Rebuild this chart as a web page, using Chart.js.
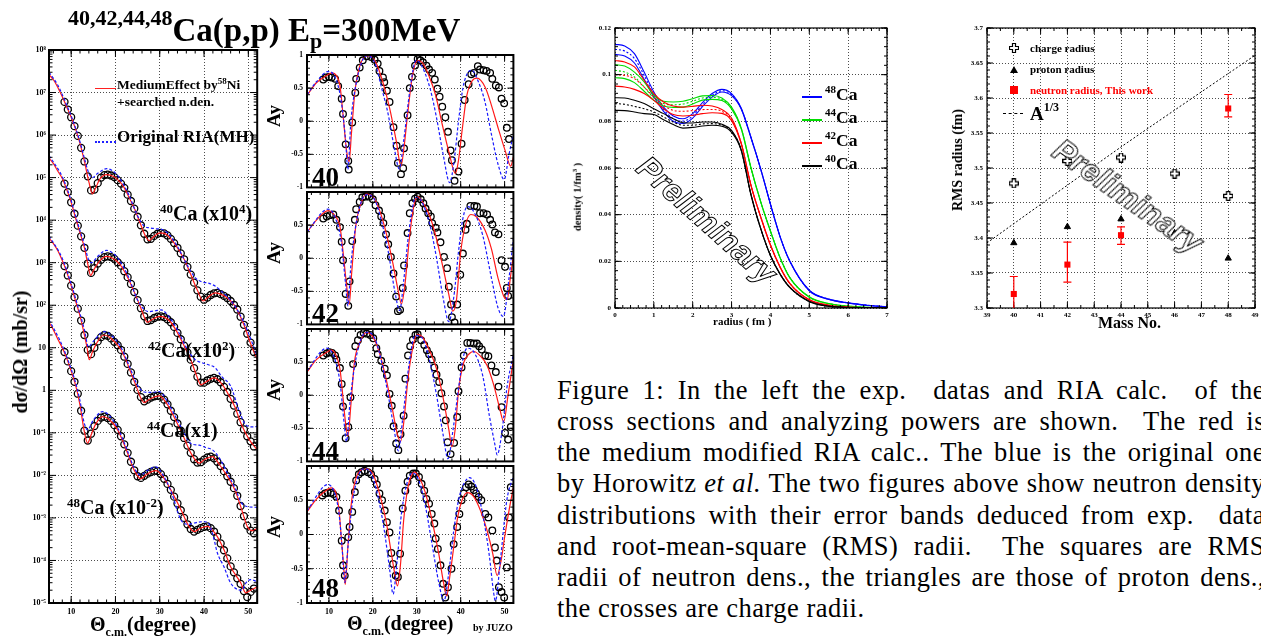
<!DOCTYPE html>
<html>
<head>
<meta charset="utf-8">
<title>40,42,44,48Ca(p,p) Ep=300MeV</title>
<script src="https://cdn.jsdelivr.net/npm/chart.js@4.4.1/dist/chart.umd.min.js"></script>
<style>
  html, body { margin: 0; padding: 0; background: #fff; }
  body { width: 1261px; height: 637px; overflow: hidden; position: relative; font-family: 'Liberation Serif', 'Times New Roman', serif; }
  canvas { position: absolute; }
  .t { position: absolute; font-weight: bold; white-space: nowrap; line-height: 1; color: #000; }
  .up { position: relative; }
  .rot { position: absolute; font-weight: bold; white-space: nowrap; line-height: 1; transform: translate(-50%, -50%) rotate(-90deg); }
  .ln { position: absolute; height: 0; }
  .prelim { position: absolute; font-family: 'Liberation Sans', Arial, sans-serif; font-style: italic; font-weight: bold; font-size: 32px; color: #fff; -webkit-text-stroke: 1px #000; white-space: nowrap; line-height: 1; }
  #cap { position: absolute; left: 557px; top: 375px; font-family: 'Liberation Serif', 'Times New Roman', serif; font-size: 26.5px; line-height: 31.15px; letter-spacing: 0.5px; color: #000; }
  #cap .cl { white-space: nowrap; }
</style>
</head>
<body>

<canvas id="cXs" width="262" height="585" style="left:0;top:45px"></canvas>
<canvas id="cAy0" width="260" height="143" style="left:258px;top:49px"></canvas>
<canvas id="cAy1" width="260" height="143" style="left:258px;top:186px"></canvas>
<canvas id="cAy2" width="260" height="143" style="left:258px;top:323px"></canvas>
<canvas id="cAy3" width="260" height="167" style="left:258px;top:460px"></canvas>
<canvas id="cDen" width="312" height="300" style="left:580px;top:20px"></canvas>
<canvas id="cRms" width="306" height="300" style="left:955px;top:20px"></canvas>

<!-- title -->
<div class="t" style="left:68px;top:14px;font-size:33px"><span class="up" style="font-size:22px;top:-16px">40,42,44,48</span>Ca(p,p) E<span class="up" style="font-size:22px;top:7px">p</span>=300MeV</div>

<!-- cross section panel texts -->
<div class="ln" style="left:95px;top:88px;width:21px;border-top:1.5px solid #ff2020"></div>
<div class="t" style="left:117px;top:78px;font-size:13.5px">MediumEffect by<span class="up" style="font-size:9px;top:-5px">58</span>Ni</div>
<div class="t" style="left:117px;top:95px;font-size:13.5px">+searched n.den.</div>
<div class="ln" style="left:95px;top:141px;width:21px;border-top:2px dotted #2020ff"></div>
<div class="t" style="left:117px;top:128px;font-size:17px">Original RIA(MH)</div>
<div class="t" style="left:160px;top:203px;font-size:20px"><span class="up" style="font-size:13px;top:-7px">40</span>Ca (x10<span class="up" style="font-size:13px;top:-7px">4</span>)</div>
<div class="t" style="left:148px;top:340px;font-size:20px"><span class="up" style="font-size:13px;top:-7px">42</span>Ca(x10<span class="up" style="font-size:13px;top:-7px">2</span>)</div>
<div class="t" style="left:147px;top:420px;font-size:20px"><span class="up" style="font-size:13px;top:-7px">44</span>Ca(x1)</div>
<div class="t" style="left:67px;top:497px;font-size:20px"><span class="up" style="font-size:13px;top:-7px">48</span>Ca (x10<span class="up" style="font-size:13px;top:-7px">-2</span>)</div>
<div class="rot" style="left:20px;top:352px;font-size:20px">dσ/dΩ (mb/sr)</div>
<div class="t" style="left:90px;top:614px;font-size:20px">Θ<span class="up" style="font-size:12px;top:5px">c.m.</span>(degree)</div>

<!-- analyzing power panel texts -->
<div class="rot" style="left:273px;top:116px;font-size:19px">Ay</div>
<div class="rot" style="left:273px;top:253px;font-size:19px">Ay</div>
<div class="rot" style="left:273px;top:390px;font-size:19px">Ay</div>
<div class="rot" style="left:273px;top:527px;font-size:19px">Ay</div>
<div class="t" style="left:312px;top:164px;font-size:27px">40</div>
<div class="t" style="left:312px;top:300px;font-size:27px">42</div>
<div class="t" style="left:312px;top:438px;font-size:27px">44</div>
<div class="t" style="left:312px;top:575px;font-size:27px">48</div>
<div class="t" style="left:347px;top:613px;font-size:20px">Θ<span class="up" style="font-size:12px;top:5px">c.m.</span>(degree)</div>
<div class="t" style="left:473px;top:623px;font-size:10px">by JUZO</div>

<!-- density panel texts -->
<div class="ln" style="left:802px;top:96px;width:20px;border-top:2px solid #0000ff"></div>
<div class="ln" style="left:802px;top:119px;width:20px;border-top:2px solid #00dd00"></div>
<div class="ln" style="left:802px;top:142px;width:20px;border-top:2px solid #ff0000"></div>
<div class="ln" style="left:802px;top:165px;width:20px;border-top:2px solid #000"></div>
<div class="t" style="left:825px;top:86px;font-size:17.5px"><span class="up" style="font-size:11px;top:-7px">48</span>Ca</div>
<div class="t" style="left:825px;top:109px;font-size:17.5px"><span class="up" style="font-size:11px;top:-7px">44</span>Ca</div>
<div class="t" style="left:825px;top:132px;font-size:17.5px"><span class="up" style="font-size:11px;top:-7px">42</span>Ca</div>
<div class="t" style="left:825px;top:155px;font-size:17.5px"><span class="up" style="font-size:11px;top:-7px">40</span>Ca</div>
<div class="rot" style="left:578px;top:197px;font-size:10.5px">density( 1/fm<span class="up" style="font-size:7px;top:-4px">3</span> )</div>
<div class="t" style="left:713px;top:316px;font-size:11px">radius ( fm )</div>
<div class="prelim" style="left:707px;top:220px;transform:translate(-50%,-50%) rotate(41.7deg)">Preliminary</div>

<!-- RMS panel texts -->
<svg style="position:absolute;left:1009px;top:43px" width="10" height="10"><path d="M3.5 0.5 H6.5 V3.5 H9.5 V6.5 H6.5 V9.5 H3.5 V6.5 H0.5 V3.5 H3.5 Z" fill="#fff" stroke="#000" stroke-width="1.2"/></svg>
<div style="position:absolute;left:1010px;top:66px;width:0;height:0;border-left:4px solid transparent;border-right:4px solid transparent;border-bottom:7px solid #000"></div>
<div style="position:absolute;left:1010px;top:86px;width:8px;height:8px;background:#ff0000"></div>
<div class="ln" style="left:1003px;top:113px;width:20px;border-top:1px dashed #000"></div>
<div class="t" style="left:1030px;top:43px;font-size:11px">charge radius</div>
<div class="t" style="left:1030px;top:64px;font-size:11px">proton radius</div>
<div class="t" style="left:1030px;top:85px;font-size:11px;color:#ff0000">neutron radius, This work</div>
<div class="t" style="left:1030px;top:104px;font-size:19px">A<span class="up" style="font-size:12px;top:-9px">1/3</span></div>
<div class="rot" style="left:958px;top:160px;font-size:14px">RMS radius (fm)</div>
<div class="t" style="left:1098px;top:315px;font-size:16px">Mass No.</div>
<div class="prelim" style="left:1128px;top:196px;transform:translate(-50%,-50%) rotate(35deg)">Preliminary</div>

<!-- caption -->
<div id="cap">
  <div><span class="cl">Figure 1: In the left the exp.&nbsp; datas and RIA calc.&nbsp; of the</span></div>
  <div><span class="cl">cross sections and analyzing powers are shown.&nbsp; The red is</span></div>
  <div><span class="cl">the medium modified RIA calc.. The blue is the original one</span></div>
  <div><span class="cl">by Horowitz <i>et al.</i> The two figures above show neutron density</span></div>
  <div><span class="cl">distributions with their error bands deduced from exp.&nbsp; data</span></div>
  <div><span class="cl">and root-mean-square (RMS) radii.&nbsp; The squares are RMS</span></div>
  <div><span class="cl">radii of neutron dens., the triangles are those of proton dens.,</span></div>
  <div><span class="cl" data-last="1">the crosses are charge radii.</span></div>
</div>

<script>
// ---------- cross sections: [angle (deg), log10 dσ/dΩ as plotted] ----------
const xsRed40 = [[5,7.42],[6,7.3],[7,7.12],[8,6.9],[9,6.66],[10,6.42],[11,6.14],[12,5.8],[13,5.38],[14,4.9],[14.8,4.62],[15.5,4.75],[16.5,4.97],[18,5.07],[19.5,5.03],[21,4.9],[22,4.76],[23,4.55],[24.2,4.29],[25.7,3.9],[26.8,3.62],[27.6,3.52],[28.5,3.6],[30,3.7],[31,3.69],[32,3.62],[34,3.35],[35.5,3.08],[37,2.72],[38.5,2.35],[39.8,2.1],[41,2.2],[42.5,2.29],[44,2.25],[45.5,2.15],[47,1.98],[49,1.54],[50.5,1.1],[52,0.72]];
const xsBlue40 = [[5,7.48],[7,7.17],[8,6.95],[9,6.7],[10,6.45],[12,5.84],[13,5.45],[14,5.1],[14.8,5.0],[16,5.1],[18,5.21],[19.5,5.15],[21,4.98],[23,4.6],[25,4.1],[26.5,3.86],[27.6,3.82],[29,3.8],[30.5,3.78],[32,3.68],[34,3.38],[36,2.98],[38,2.65],[39.5,2.55],[41,2.52],[42.5,2.45],[44,2.32],[46,2.12],[48,1.8],[50,1.35],[52,0.8]];
const xsRed42 = [[5,5.46],[6,5.33],[7,5.15],[8,4.98],[9,4.72],[10,4.42],[11,4.05],[12,3.7],[13,3.35],[13.8,2.95],[14.4,2.7],[15.2,2.85],[16.5,3.05],[18,3.15],[19.5,3.1],[21,2.96],[22,2.8],[23.2,2.56],[24.2,2.32],[25.7,1.94],[26.5,1.72],[27.2,1.6],[28.2,1.66],[30,1.74],[31,1.72],[32.5,1.6],[34,1.35],[35.5,1.05],[37,0.72],[38.3,0.35],[39.3,0.13],[40.5,0.2],[42.3,0.29],[44,0.15],[45.3,-0.06],[47,-0.4],[48.3,-0.77],[50.2,-1.16],[52,-1.4]];
const xsBlue42 = [[5,5.52],[8,5.02],[9,4.76],[10,4.46],[11,4.1],[12,3.75],[13,3.42],[14,3.05],[14.6,3.0],[16,3.15],[18,3.29],[19.5,3.22],[21,3.04],[23,2.65],[25,2.12],[26.5,1.9],[27.5,1.85],[29,1.87],[30.3,1.89],[32,1.74],[34,1.42],[36,1.0],[38,0.72],[39.5,0.65],[41,0.6],[42.5,0.53],[44,0.32],[46,0.1],[48,-0.5],[49.5,-0.82],[51,-0.86],[52,-0.85]];
const xsRed44 = [[5,3.58],[6,3.45],[7,3.28],[8,3.05],[9,2.78],[10,2.46],[11,2.1],[12,1.75],[13,1.3],[13.6,1.0],[14.1,0.72],[14.8,0.9],[16,1.15],[17.4,1.3],[19,1.22],[21.2,0.96],[22.5,0.68],[23.5,0.41],[25,0.01],[25.8,-0.2],[26.5,-0.29],[27.5,-0.22],[29.9,-0.13],[31.5,-0.3],[33.2,-0.62],[35.5,-1.12],[37,-1.47],[38.9,-1.71],[40.2,-1.62],[41.9,-1.56],[43.5,-1.75],[45.3,-2.03],[47,-2.35],[48.3,-2.74],[49.8,-3.21],[51,-3.3],[52,-3.24]];
const xsBlue44 = [[5,3.63],[8,3.1],[10,2.5],[12,1.8],[13,1.42],[13.9,1.02],[15,1.15],[17.4,1.38],[19,1.3],[21.2,1.02],[23,0.6],[25,0.12],[26.5,-0.04],[28,-0.05],[29.9,-0.03],[31.5,-0.22],[33.2,-0.55],[35.5,-1.0],[37,-1.25],[38.9,-1.29],[40.5,-1.35],[41.9,-1.4],[43.5,-1.6],[45.3,-1.95],[47,-2.3],[48.5,-2.65],[50,-2.74],[52,-2.75]];
const xsRed48 = [[5,1.6],[6,1.42],[7,1.2],[8,1.0],[9,0.75],[10,0.45],[11,0.12],[12,-0.35],[12.9,-0.93],[13.7,-1.24],[14.5,-1.05],[15.5,-0.8],[17.1,-0.62],[18.5,-0.68],[20.5,-0.93],[22,-1.28],[22.7,-1.47],[24.2,-1.87],[25.7,-2.08],[27,-1.98],[29.1,-1.89],[30.5,-2.0],[32.5,-2.34],[34.8,-2.81],[36.6,-3.2],[37.8,-3.32],[39,-3.25],[40.8,-3.2],[42,-3.3],[43,-3.44],[44.5,-3.75],[46,-4.15],[48.3,-4.53],[49.4,-4.76],[50.5,-4.7],[52,-4.62]];
const xsBlue48 = [[5,1.66],[8,1.05],[10,0.5],[11,0.18],[12,-0.25],[12.9,-0.75],[13.7,-0.93],[15,-0.7],[17.1,-0.5],[18.5,-0.58],[20.5,-0.88],[22.7,-1.42],[24.2,-1.82],[25.7,-1.99],[27,-1.9],[29.1,-1.8],[30.5,-1.95],[32.5,-2.36],[34.8,-3.05],[36.5,-3.15],[37.8,-3.12],[39.5,-3.09],[40.8,-3.1],[42,-3.4],[43,-3.82],[44.5,-4.15],[46,-4.53],[48.5,-4.7],[49.5,-4.52],[50.5,-4.45],[52,-4.5]];

// measured cross sections (log10, as plotted)
const xsAngles = [8.5,9.25,10,10.75,11.5,12.25,13,13.75,14.5,15.25,16,16.75,17.5,18.25,19,19.75,20.5,21.25,22,22.75,23.5,24.25,25,25.75,26.5,27.25,28,28.75,29.5,30.25,31,31.75,32.5,33.25,34,34.75,35.5,36.25,37,37.75,38.5,39.25,40,40.75,41.5,42.25,43,43.75,44.5,45.25,46,46.75,47.5,48.25,49,49.75,50.5,51.25];
const xsData40 = [6.78,6.6,6.42,6.21,5.98,5.7,5.38,5.03,4.7,4.72,4.87,5.0,5.06,5.07,5.05,5.01,4.94,4.86,4.76,4.6,4.45,4.27,4.08,3.88,3.68,3.55,3.56,3.63,3.68,3.7,3.69,3.64,3.56,3.46,3.35,3.22,3.08,2.9,2.72,2.53,2.35,2.2,2.13,2.18,2.24,2.28,2.29,2.26,2.22,2.17,2.1,2.01,1.9,1.73,1.54,1.33,1.12,0.9];
const xsData42 = [4.86,4.66,4.42,4.15,3.87,3.62,3.35,2.98,2.76,2.87,2.98,3.07,3.13,3.15,3.13,3.09,3.01,2.93,2.8,2.66,2.5,2.31,2.12,1.93,1.74,1.63,1.65,1.7,1.73,1.74,1.72,1.67,1.6,1.49,1.35,1.2,1.05,0.89,0.72,0.52,0.32,0.18,0.18,0.23,0.27,0.29,0.26,0.19,0.08,-0.04,-0.2,-0.36,-0.55,-0.75,-0.92,-1.08,-1.2,-1.32];
const xsData44 = [2.92,2.7,2.46,2.19,1.92,1.64,1.3,0.95,0.85,1.0,1.15,1.25,1.3,1.28,1.22,1.14,1.06,0.95,0.79,0.62,0.42,0.2,0.01,-0.16,-0.26,-0.22,-0.17,-0.14,-0.13,-0.15,-0.22,-0.33,-0.48,-0.63,-0.78,-0.95,-1.12,-1.3,-1.47,-1.62,-1.7,-1.69,-1.63,-1.58,-1.56,-1.6,-1.68,-1.78,-1.9,-2.02,-2.15,-2.3,-2.48,-2.72,-2.96,-3.18,-3.3,-3.36];
const xsData48 = [0.9,0.68,0.45,0.2,-0.08,-0.48,-0.95,-1.18,-1.02,-0.84,-0.72,-0.64,-0.62,-0.65,-0.72,-0.82,-0.93,-1.08,-1.27,-1.47,-1.68,-1.88,-2.02,-2.06,-2.01,-1.96,-1.92,-1.89,-1.9,-1.97,-2.08,-2.2,-2.34,-2.5,-2.66,-2.82,-3.0,-3.15,-3.26,-3.32,-3.28,-3.24,-3.21,-3.2,-3.24,-3.32,-3.44,-3.6,-3.76,-3.95,-4.14,-4.28,-4.42,-4.55,-4.72,-4.86,-4.74,-4.66];

// ---------- analyzing powers: [angle, Ay] ----------
const ay40Red = [[5,0.39],[7.2,0.585],[9.5,0.69],[10.6,0.73],[11.7,0.69],[12.5,0.54],[13.2,0.1],[14,-0.44],[14.6,-0.61],[15.1,-0.2],[15.9,0.44],[17,0.83],[18.5,0.985],[19.2,0.99],[20.75,0.88],[22.3,0.585],[23.8,0.2],[25.3,-0.29],[26.4,-0.68],[27.1,-0.39],[27.9,0.1],[29,0.68],[30.2,0.92],[31.3,0.88],[32.8,0.68],[34.3,0.39],[35.8,-0.05],[37.3,-0.46],[38.8,-0.79],[39.5,-0.59],[40.3,-0.15],[41.4,0.39],[42.6,0.61],[43.7,0.65],[45.6,0.51],[47,0.24],[48.6,-0.12],[50.1,-0.44],[51.4,-0.68],[52,-0.54]];
const ay40Blue = [[5,0.4],[7.2,0.6],[9.8,0.75],[11.5,0.65],[12.8,0.3],[13.8,-0.3],[14.3,-0.73],[15,0.0],[16,0.5],[17.5,0.9],[18.8,0.99],[20.5,0.87],[22,0.5],[23.5,0.1],[25,-0.45],[26,-0.72],[27,-0.3],[28.5,0.5],[29.8,0.92],[31,0.85],[33,0.5],[34.5,0.05],[36,-0.5],[37.5,-0.93],[38.5,-0.6],[39.5,0.0],[40.5,0.5],[41.5,0.72],[42.5,0.77],[44,0.6],[45.5,0.3],[47,-0.2],[48.5,-0.65],[49.9,-0.88],[51,-0.5],[52,-0.2]];
const ay40Data = [[8.7,0.63],[9.3,0.66],[10,0.67],[10.6,0.66],[11.4,0.64],[12.1,0.53],[12.9,0.34],[13.2,0.11],[13.8,-0.35],[14.4,-0.6],[14.5,-0.73],[15.3,-0.02],[16,0.43],[16.2,0.64],[17,0.81],[17.7,0.92],[18.6,0.98],[19.6,0.97],[20.4,0.93],[21.1,0.87],[21.5,0.76],[22.3,0.66],[22.6,0.59],[23.2,0.46],[23.8,0.29],[24.7,-0.09],[25.4,-0.37],[25.7,-0.63],[26.4,-0.8],[26.9,-0.71],[27.1,-0.41],[27.9,0.09],[28.4,0.5],[28.9,0.67],[29.6,0.84],[30.2,0.94],[30.8,0.92],[31.4,0.89],[32.2,0.84],[32.8,0.78],[33.5,0.73],[34.1,0.63],[34.7,0.49],[35.2,0.37],[35.8,0.22],[36.5,0.06],[37.1,-0.16],[37.7,-0.44],[38,-0.59],[38.6,-0.9],[39.5,-0.76],[40.2,-0.34],[40.9,0.32],[41.8,0.56],[42.4,0.71],[43,0.73],[43.9,0.83],[44.4,0.78],[45.2,0.77],[45.9,0.76],[46.7,0.73],[47.2,0.64],[48,0.54],[48.7,0.51],[49.3,0.34],[49.9,0.27],[50.5,-0.1],[51,-0.27]];

const ay42Red = [[5,0.39],[7.2,0.58],[9.8,0.72],[11.5,0.63],[12.5,0.48],[13.3,0.04],[14,-0.4],[14.6,-0.7],[15.2,-0.2],[16.1,0.48],[17.3,0.83],[18.5,0.97],[20,0.93],[21.5,0.73],[23,0.39],[24.5,-0.06],[25.8,-0.5],[26.5,-0.69],[27.3,-0.4],[28.3,0.29],[29.3,0.78],[30.2,0.93],[31.5,0.83],[33,0.63],[34.5,0.29],[36,-0.15],[37.3,-0.55],[38.2,-0.8],[39,-0.65],[40,0.09],[41,0.48],[42.3,0.66],[43.5,0.63],[45.5,0.43],[47,0.14],[48.5,-0.3],[50,-0.6],[50.6,-0.62],[51.3,-0.3],[52,0.05]];
const ay42Blue = [[5,0.4],[9.8,0.74],[11.5,0.6],[12.8,0.25],[13.8,-0.4],[14.3,-0.72],[15,-0.1],[16,0.45],[17.5,0.88],[18.8,0.96],[20.5,0.87],[22,0.55],[23.5,0.1],[25,-0.5],[26.1,-0.79],[27,-0.35],[28.3,0.45],[29.8,0.92],[31,0.87],[33,0.5],[34.5,0.0],[36,-0.6],[37.3,-0.96],[38.5,-0.55],[39.5,0.1],[40.5,0.6],[41.6,0.78],[43,0.7],[45,0.35],[47,-0.3],[48.5,-0.75],[49.7,-0.88],[51,-0.3],[52,0.3]];
const ay42Data = [[8.7,0.6],[9.5,0.63],[10.2,0.65],[11,0.66],[11.7,0.58],[12.5,0.47],[12.9,0.25],[13.2,-0.03],[13.8,-0.54],[14.4,-0.72],[14.7,-0.35],[15.3,0.26],[15.9,0.58],[16.2,0.74],[17,0.85],[17.6,0.92],[18.3,0.93],[19.2,0.93],[20,0.89],[20.6,0.8],[21.4,0.72],[21.9,0.63],[22.4,0.53],[23,0.36],[23.5,0.21],[24.1,0.02],[24.7,-0.23],[25.3,-0.58],[25.7,-0.8],[26.2,-0.78],[26.8,-0.45],[27.1,-0.11],[27.9,0.38],[28.4,0.68],[29,0.83],[29.6,0.9],[30.2,0.93],[30.9,0.89],[31.5,0.83],[32,0.75],[32.6,0.68],[33.2,0.63],[33.5,0.53],[34.3,0.46],[34.7,0.39],[35.4,0.24],[36.2,0.02],[36.9,-0.15],[37.3,-0.43],[37.8,-0.7],[38,-0.89],[38.6,-0.97],[39.2,-0.7],[39.9,-0.25],[40.5,0.07],[41.1,0.43],[41.4,0.52],[42.2,0.79],[43.1,0.79],[43.7,0.78],[44.4,0.68],[45.2,0.68],[46,0.66],[46.7,0.58],[47.2,0.51],[47.8,0.39],[48.6,0.36],[49.3,-0.03],[50.1,-0.13],[50.5,-0.45],[50.8,-0.57]];

const ay44Red = [[5,0.35],[7.2,0.54],[9.5,0.65],[10.5,0.68],[11.5,0.62],[12.5,0.4],[13.2,-0.04],[13.8,-0.43],[14.3,-0.62],[15,-0.14],[15.8,0.5],[17,0.79],[18.5,0.95],[20,0.88],[21.5,0.64],[23,0.25],[24.5,-0.23],[25.5,-0.57],[26.3,-0.7],[27,-0.43],[28,0.25],[29,0.69],[30.1,0.92],[31.5,0.86],[33,0.66],[34.5,0.4],[36,-0.04],[37.3,-0.52],[38,-0.78],[38.8,-0.48],[39.5,0.06],[40.5,0.45],[42,0.63],[43,0.66],[44.5,0.59],[46,0.45],[47.5,0.16],[48.8,-0.18],[49.8,-0.4],[50.8,0.01],[52,0.54]];
const ay44Blue = [[5,0.37],[9.5,0.71],[11,0.6],[12.5,0.2],[13.5,-0.45],[14,-0.7],[14.8,-0.1],[16,0.5],[17.5,0.88],[18.8,0.95],[20.5,0.85],[22,0.5],[23.5,0.0],[24.8,-0.5],[25.8,-0.84],[26.8,-0.35],[28.2,0.45],[29.6,0.9],[31,0.88],[33,0.5],[34.5,0.0],[36,-0.6],[37.1,-0.96],[38.3,-0.5],[39.5,0.1],[40.5,0.55],[41.5,0.71],[43,0.65],[45,0.3],[46.5,-0.3],[47.8,-0.75],[48.3,-0.9],[49.5,-0.5],[50.5,0.1],[52,0.62]];
const ay44Data = [[8.7,0.6],[9.5,0.63],[10.1,0.65],[10.7,0.64],[11.4,0.6],[11.7,0.54],[12.5,0.41],[12.9,0.17],[13.2,-0.17],[13.8,-0.65],[14.4,-0.48],[14.9,-0.03],[15.5,0.47],[16,0.74],[16.6,0.83],[17.2,0.91],[17.9,0.94],[18.6,0.93],[19.4,0.91],[20.1,0.86],[20.8,0.71],[21.1,0.62],[21.9,0.52],[22.7,0.4],[23.2,0.3],[23.8,0.02],[24.3,-0.16],[24.7,-0.47],[25.3,-0.73],[25.8,-0.83],[26.3,-0.59],[27,-0.31],[27.4,0.25],[28,0.6],[28.5,0.74],[29.1,0.84],[29.7,0.91],[30.2,0.92],[31,0.83],[31.7,0.76],[32.3,0.68],[32.8,0.62],[33.4,0.54],[34,0.42],[34.5,0.31],[35.1,0.2],[35.6,0.03],[36.2,-0.17],[36.6,-0.38],[37,-0.71],[37.7,-0.89],[38.5,-0.72],[39.2,-0.33],[39.5,0.06],[40.2,0.42],[40.7,0.6],[41.5,0.79],[42.2,0.79],[43,0.78],[43.7,0.78],[44.2,0.74],[44.8,0.69],[45.6,0.6],[46.3,0.59],[47,0.45],[48,0.35],[48.6,0.13],[49.3,-0.18],[50.1,-0.57],[50.8,-0.67],[51.4,-0.48]];

const ay48Red = [[5,0.33],[7.2,0.52],[9.5,0.65],[10.5,0.68],[11.5,0.62],[12.3,0.35],[12.8,-0.04],[13.3,-0.43],[13.7,-0.73],[14.3,-0.19],[15,0.4],[16,0.79],[17.5,0.95],[18.5,0.96],[20,0.89],[21.5,0.6],[23,0.2],[24,-0.19],[25,-0.58],[25.6,-0.75],[26.3,-0.43],[27,0.2],[28,0.69],[29,0.89],[29.5,0.91],[30.5,0.84],[32,0.6],[33.5,0.2],[35,-0.28],[36,-0.67],[36.8,-0.9],[37.5,-0.62],[38.5,-0.14],[39.3,0.25],[40.3,0.5],[41.5,0.61],[43,0.55],[44.5,0.35],[46,0.06],[47.3,-0.28],[48.3,-0.6],[49.2,-0.38],[50,-0.04],[51,0.35],[52,0.69]];
const ay48Blue = [[5,0.35],[9.8,0.73],[11.3,0.6],[12.3,0.3],[13,-0.2],[13.6,-0.7],[14.3,-0.2],[15.2,0.4],[16.5,0.82],[18,0.96],[19.5,0.9],[21,0.6],[22.5,0.1],[23.8,-0.5],[24.6,-0.87],[25.5,-0.4],[26.5,0.3],[28,0.8],[29,0.9],[30.5,0.78],[32,0.4],[33.5,-0.15],[35,-0.7],[36.2,-0.97],[37.2,-0.6],[38.5,0.1],[39.5,0.5],[40.8,0.75],[42,0.83],[43.5,0.7],[45,0.3],[46.5,-0.3],[47.5,-0.85],[47.9,-0.97],[49,-0.4],[50.5,0.5],[52,0.85]];
const ay48Data = [[8.5,0.57],[9.1,0.6],[9.7,0.61],[10.4,0.61],[11,0.59],[11.7,0.55],[12.3,0.35],[12.9,-0.09],[13.2,-0.45],[13.6,-0.6],[14.4,-0.04],[14.7,0.11],[15.3,0.33],[15.9,0.62],[16.2,0.79],[16.8,0.88],[17.4,0.91],[18.1,0.93],[18.9,0.91],[19.6,0.88],[20.4,0.81],[20.9,0.73],[21.5,0.6],[22.1,0.5],[22.7,0.35],[23.2,0.18],[23.8,0.03],[24.2,-0.27],[24.6,-0.43],[25.2,-0.6],[25.7,-0.62],[26.2,-0.28],[26.8,0.38],[27.4,0.64],[27.9,0.77],[28.4,0.86],[29.2,0.89],[29.8,0.89],[30.5,0.84],[31.1,0.74],[31.7,0.64],[32.2,0.52],[32.8,0.45],[33.4,0.3],[34,0.16],[34.3,-0.06],[34.8,-0.21],[35.4,-0.45],[36,-0.72],[36.5,-0.92],[37.1,-0.77],[37.9,-0.5],[38.4,-0.14],[39.2,0.11],[39.7,0.3],[40.2,0.5],[40.7,0.6],[41.2,0.69],[41.8,0.73],[42.4,0.7],[43,0.65],[43.5,0.6],[44.1,0.55],[44.7,0.5],[45.6,0.3],[46.3,0.25],[47.2,0.06],[47.8,-0.19],[48.2,-0.38],[48.7,-0.77],[49.3,-0.84],[49.9,-0.92],[50.5,-0.48],[51,0.25],[51.4,0.69]];

// ---------- neutron densities (1/fm^3) vs radius (fm): upper / central / lower ----------
const rDens = [0,0.25,0.5,0.75,1,1.25,1.5,1.75,2,2.25,2.5,2.75,3,3.25,3.5,3.75,4,4.25,4.5,5,5.5,6,6.5,7];
const den48Hi = [0.1130,0.1123,0.1090,0.1011,0.0926,0.0861,0.0823,0.0811,0.0833,0.0880,0.0919,0.0937,0.0919,0.0856,0.0732,0.0596,0.0446,0.0306,0.0201,0.0076,0.0038,0.0022,0.0012,0.0005];
const den48 = [0.1109,0.1101,0.1069,0.0997,0.0914,0.0851,0.0811,0.0801,0.0823,0.0871,0.0911,0.0931,0.0914,0.0854,0.0730,0.0595,0.0445,0.0305,0.0200,0.0075,0.0038,0.0022,0.0012,0.0005];
const den48Lo = [0.1087,0.1080,0.1050,0.0980,0.0904,0.0843,0.0800,0.0791,0.0814,0.0863,0.0904,0.0926,0.0910,0.0852,0.0728,0.0594,0.0444,0.0304,0.0199,0.0074,0.0037,0.0021,0.0011,0.0004];
const den44Hi = [0.1043,0.1037,0.1011,0.0969,0.0911,0.0886,0.0883,0.0886,0.0897,0.0909,0.0911,0.0900,0.0861,0.0771,0.0602,0.0456,0.0331,0.0216,0.0131,0.0048,0.0019,0.0008,0.0003,0.0001];
const den44 = [0.1019,0.1011,0.0990,0.0947,0.0900,0.0876,0.0871,0.0874,0.0886,0.0900,0.0903,0.0894,0.0857,0.0769,0.0600,0.0455,0.0330,0.0215,0.0130,0.0047,0.0019,0.0008,0.0003,0.0001];
const den44Lo = [0.0987,0.0983,0.0966,0.0929,0.0890,0.0866,0.0860,0.0861,0.0874,0.0891,0.0894,0.0889,0.0853,0.0767,0.0598,0.0454,0.0329,0.0214,0.0129,0.0046,0.0018,0.0007,0.0002,0.0001];
const den42Hi = [0.1061,0.1054,0.1033,0.0976,0.0919,0.0883,0.0866,0.0861,0.0864,0.0869,0.0866,0.0851,0.0814,0.0706,0.0527,0.0391,0.0271,0.0176,0.0106,0.0036,0.0012,0.0004,0.0001,0];
const den42 = [0.1000,0.0997,0.0983,0.0947,0.0904,0.0869,0.0847,0.0843,0.0846,0.0850,0.0851,0.0843,0.0809,0.0704,0.0525,0.0390,0.0270,0.0175,0.0105,0.0035,0.0012,0.0004,0.0001,0];
const den42Lo = [0.0951,0.0947,0.0937,0.0919,0.0890,0.0854,0.0829,0.0823,0.0826,0.0833,0.0837,0.0834,0.0803,0.0702,0.0523,0.0389,0.0269,0.0174,0.0104,0.0034,0.0011,0.0003,0.0001,0];
const den40Hi = [0.0901,0.0900,0.0890,0.0876,0.0854,0.0833,0.0811,0.0794,0.0793,0.0797,0.0797,0.0787,0.0761,0.0678,0.0487,0.0341,0.0226,0.0146,0.0089,0.0029,0.0008,0.0002,0.0001,0];
const den40 = [0.0876,0.0873,0.0864,0.0854,0.0840,0.0819,0.0797,0.0783,0.0783,0.0789,0.0790,0.0783,0.0757,0.0676,0.0485,0.0340,0.0225,0.0145,0.0088,0.0028,0.0008,0.0002,0.0001,0];
const den40Lo = [0.0847,0.0846,0.0840,0.0833,0.0829,0.0807,0.0786,0.0771,0.0774,0.0780,0.0783,0.0779,0.0753,0.0674,0.0483,0.0339,0.0224,0.0144,0.0087,0.0027,0.0007,0.0002,0,0];

// ---------- RMS radii (fm) vs mass number ----------
const massNo = [40, 42, 44, 46, 48];
const chargeR = [3.478, 3.51, 3.515, 3.492, 3.46];
const protonR = [3.393, 3.416, 3.427, 3.407, 3.371];
const neutronMass = [40, 42, 44, 48];
const neutronR = [3.32, 3.362, 3.404, 3.585];
const neutronLo = [3.297, 3.337, 3.391, 3.573];
const neutronHi = [3.345, 3.394, 3.416, 3.605];
const a13Line = [[39, 3.393], [44, 3.53], [49, 3.661]];

// ---------- helpers ----------
const BOLD = s => ({ family: 'Liberation Serif', size: s, weight: 'bold' });
const SUP = { '-': '⁻', '0': '⁰', '1': '¹', '2': '²', '3': '³', '4': '⁴', '5': '⁵', '6': '⁶', '7': '⁷', '8': '⁸', '9': '⁹' };
function logLabel(v) {
  const e = Math.round(Math.log10(v));
  if (e === 0) return '1';
  if (e === 1) return '10';
  return '10' + String(e).split('').map(c => SUP[c]).join('');
}
function steps(a, b, d) {
  const out = [];
  for (let v = a; v <= b + 1e-9; v += d) out.push(+v.toFixed(4));
  return out;
}

const toXY = arr => arr.map(p => ({ x: p[0], y: p[1] }));
const toLogXY = arr => arr.map(p => ({ x: p[0], y: Math.pow(10, p[1]) }));
const zip = (xs, ys) => xs.map((x, i) => ({ x: x, y: ys[i] }));

function curve(data, color, dash, width) {
  return { data: data, showLine: true, borderColor: color, borderWidth: width || 1.2, borderDash: dash || [],
           pointRadius: 0, pointHoverRadius: 0, cubicInterpolationMode: 'monotone', fill: false, order: 0 };
}
function circles(data, r) {
  return { data: data, showLine: false, pointRadius: r, pointHoverRadius: r, pointBorderColor: '#000',
           pointBackgroundColor: 'rgba(0,0,0,0)', pointBorderWidth: 1.3, order: 1 };
}

function axis(o) {
  return {
    type: o.type || 'linear', min: o.min, max: o.max,
    afterBuildTicks: s => { s.ticks = o.ticks.map(v => ({ value: v })); },
    afterFit: s => {
      if (o.w !== undefined) s.width = o.w;
      if (o.h !== undefined) s.height = o.h;
      // keep the plot area exactly where the layout padding puts it
      s.paddingTop = 0; s.paddingBottom = 0; s.paddingLeft = 0; s.paddingRight = 0;
    },
    grid: { color: '#000', lineWidth: 0.7, drawTicks: false },
    border: { display: false, dash: [1, 2] },
    ticks: { display: o.show !== false, font: BOLD(o.fs || 8), color: '#000', padding: o.pad || 3,
             maxRotation: 0, autoSkip: false, callback: o.fmt || (v => String(v)) }
  };
}

// frame with inward ticks on all four sides (ROOT style)
const framePlugin = {
  id: 'frame',
  afterDatasetsDraw(chart, args, o) {
    if (!o || !o.xMajor) return;
    const ctx = chart.ctx, a = chart.chartArea, sx = chart.scales.x, sy = chart.scales.y;
    ctx.save();
    ctx.strokeStyle = '#000';
    ctx.lineWidth = 1;
    ctx.beginPath();
    const tx = (list, len) => list.forEach(v => {
      const p = sx.getPixelForValue(v);
      if (p < a.left - 0.5 || p > a.right + 0.5) return;
      ctx.moveTo(p, a.bottom); ctx.lineTo(p, a.bottom - len);
      ctx.moveTo(p, a.top); ctx.lineTo(p, a.top + len);
    });
    const ty = (list, len) => list.forEach(v => {
      const p = sy.getPixelForValue(v);
      if (p < a.top - 0.5 || p > a.bottom + 0.5) return;
      ctx.moveTo(a.left, p); ctx.lineTo(a.left + len, p);
      ctx.moveTo(a.right, p); ctx.lineTo(a.right - len, p);
    });
    tx(o.xMajor, o.major); tx(o.xMinor, o.minor);
    ty(o.yMajor, o.major); ty(o.yMinor, o.minor);
    ctx.stroke();
    ctx.lineWidth = o.lw || 1.5;
    ctx.strokeRect(a.left, a.top, a.right - a.left, a.bottom - a.top);
    ctx.restore();
  }
};

const errorBarPlugin = {
  id: 'errbars',
  afterDatasetsDraw(chart) {
    const ctx = chart.ctx, a = chart.chartArea, sx = chart.scales.x, sy = chart.scales.y;
    ctx.save();
    ctx.beginPath(); ctx.rect(a.left, a.top, a.right - a.left, a.bottom - a.top); ctx.clip();
    ctx.strokeStyle = '#ff0000'; ctx.lineWidth = 1.2;
    neutronMass.forEach((m, i) => {
      const px = sx.getPixelForValue(m), p1 = sy.getPixelForValue(neutronLo[i]), p2 = sy.getPixelForValue(neutronHi[i]);
      ctx.beginPath();
      ctx.moveTo(px, p1); ctx.lineTo(px, p2);
      ctx.moveTo(px - 4, p1); ctx.lineTo(px + 4, p1);
      ctx.moveTo(px - 4, p2); ctx.lineTo(px + 4, p2);
      ctx.stroke();
    });
    ctx.restore();
  }
};

function options(scales, padding, frame) {
  return {
    responsive: false, animation: false, devicePixelRatio: 1, events: [],
    layout: { padding: padding },
    scales: scales,
    plugins: { legend: { display: false }, tooltip: { enabled: false }, frame: frame }
  };
}

const RED = '#ff1a1a', BLUE = '#1a1aff';

// ---------- cross section chart ----------
const decades = steps(-5, 8, 1).map(e => Math.pow(10, e));
const logMinor = [];
for (let e = -5; e < 8; e++) for (let k = 2; k <= 9; k++) logMinor.push(k * Math.pow(10, e));

new Chart(document.getElementById('cXs'), {
  type: 'scatter',
  data: {
    datasets: [
      curve(toLogXY(xsBlue40), BLUE, [3, 2]), curve(toLogXY(xsRed40), RED),
      curve(toLogXY(xsBlue42), BLUE, [3, 2]), curve(toLogXY(xsRed42), RED),
      curve(toLogXY(xsBlue44), BLUE, [3, 2]), curve(toLogXY(xsRed44), RED),
      curve(toLogXY(xsBlue48), BLUE, [3, 2]), curve(toLogXY(xsRed48), RED),
      circles(zip(xsAngles, xsData40.map(v => Math.pow(10, v))), 3.5),
      circles(zip(xsAngles, xsData42.map(v => Math.pow(10, v))), 3.5),
      circles(zip(xsAngles, xsData44.map(v => Math.pow(10, v))), 3.5),
      circles(zip(xsAngles, xsData48.map(v => Math.pow(10, v))), 3.5)
    ]
  },
  options: options({
    x: axis({ min: 5, max: 52, ticks: [10, 20, 30, 40, 50], h: 27, fs: 8, pad: 4 }),
    y: axis({ type: 'logarithmic', min: 1e-5, max: 1e8, ticks: decades, w: 49, fs: 8, pad: 3, fmt: logLabel })
  }, { top: 5, right: 4, left: 0, bottom: 0 }, {
    xMajor: [10, 20, 30, 40, 50], xMinor: steps(6, 52, 2), yMajor: decades, yMinor: logMinor, major: 7, minor: 3.5, lw: 2
  }),
  plugins: [framePlugin]
});

// ---------- analyzing power charts ----------
const ayPanels = [
  { id: 'cAy0', red: ay40Red, blue: ay40Blue, pts: ay40Data },
  { id: 'cAy1', red: ay42Red, blue: ay42Blue, pts: ay42Data },
  { id: 'cAy2', red: ay44Red, blue: ay44Blue, pts: ay44Data },
  { id: 'cAy3', red: ay48Red, blue: ay48Blue, pts: ay48Data }
];
ayPanels.forEach((p, idx) => {
  const last = idx === ayPanels.length - 1;
  new Chart(document.getElementById(p.id), {
    type: 'scatter',
    data: {
      datasets: [
        curve(toXY(p.blue), BLUE, [3, 2]),
        curve(toXY(p.red), RED),
        circles(toXY(p.pts), 3.3)
      ]
    },
    options: options({
      x: axis({ min: 5, max: 52, ticks: [10, 20, 30, 40, 50], h: last ? 24 : 0, show: last, fs: 8, pad: 4 }),
      y: axis({ min: -1, max: 1, ticks: [-1, -0.5, 0, 0.5, 1], w: 49, fs: 7.5, pad: 4,
                fmt: v => (idx > 0 && v === 1) ? '' : String(v) })
    }, { top: 6, right: 3, left: 0, bottom: 0 }, {
      xMajor: [10, 20, 30, 40, 50], xMinor: steps(6, 52, 2), yMajor: [-0.5, 0, 0.5], yMinor: steps(-0.9, 0.9, 0.1),
      major: 6, minor: 3, lw: 2
    }),
    plugins: [framePlugin]
  });
});

// ---------- density chart ----------
const GREEN = '#00dd00';
const denSets = [
  [den40Hi, den40, den40Lo, '#000000'],
  [den42Hi, den42, den42Lo, '#ff0000'],
  [den44Hi, den44, den44Lo, GREEN],
  [den48Hi, den48, den48Lo, '#0000ff']
];
const denDatasets = [];
denSets.forEach(s => {
  denDatasets.push(curve(zip(rDens, s[0]), s[3], [], 1.1));
  denDatasets.push(curve(zip(rDens, s[1]), s[3], [2, 2], 1.1));
  denDatasets.push(curve(zip(rDens, s[2]), s[3], [], 1.1));
});
new Chart(document.getElementById('cDen'), {
  type: 'scatter',
  data: { datasets: denDatasets },
  options: options({
    x: axis({ min: 0, max: 7, ticks: steps(0, 7, 1), h: 12, fs: 7, pad: 3 }),
    y: axis({ min: 0, max: 0.12, ticks: [0, 0.02, 0.04, 0.06, 0.08, 0.1, 0.12], w: 35, fs: 7, pad: 4 })
  }, { top: 8, right: 5, left: 0, bottom: 0 }, {
    xMajor: steps(0, 7, 1), xMinor: steps(0, 7, 0.2), yMajor: steps(0, 0.12, 0.02), yMinor: steps(0, 0.12, 0.004),
    major: 6, minor: 3, lw: 1.2
  }),
  plugins: [framePlugin]
});

// ---------- RMS radius chart ----------
function openCross(s) {
  const c = document.createElement('canvas');
  c.width = s; c.height = s;
  const g = c.getContext('2d'), a = s / 3;
  g.beginPath();
  g.moveTo(a, 0.6); g.lineTo(2 * a, 0.6); g.lineTo(2 * a, a); g.lineTo(s - 0.6, a); g.lineTo(s - 0.6, 2 * a);
  g.lineTo(2 * a, 2 * a); g.lineTo(2 * a, s - 0.6); g.lineTo(a, s - 0.6); g.lineTo(a, 2 * a); g.lineTo(0.6, 2 * a);
  g.lineTo(0.6, a); g.lineTo(a, a); g.closePath();
  g.fillStyle = '#fff'; g.fill();
  g.strokeStyle = '#000'; g.lineWidth = 1.2; g.stroke();
  return c;
}
new Chart(document.getElementById('cRms'), {
  type: 'scatter',
  data: {
    datasets: [
      { data: zip(massNo, chargeR), pointStyle: openCross(10), pointRadius: 5, showLine: false, order: 0 },
      { data: zip(massNo, protonR), pointStyle: 'triangle', pointRadius: 3.6, pointBackgroundColor: '#000', pointBorderColor: '#000', pointBorderWidth: 1, showLine: false, order: 0 },
      { data: zip(neutronMass, neutronR), pointStyle: 'rect', pointRadius: 4.3, pointBackgroundColor: '#ff0000', pointBorderColor: '#ff0000', pointBorderWidth: 0, showLine: false, order: 0 },
      { data: toXY(a13Line), showLine: true, borderColor: '#000', borderWidth: 1, borderDash: [2, 2], pointRadius: 0, tension: 0.2, order: 1 }
    ]
  },
  options: options({
    x: axis({ min: 39, max: 49, ticks: steps(39, 49, 1), h: 12, fs: 7, pad: 3 }),
    y: axis({ min: 3.3, max: 3.7, ticks: steps(3.3, 3.7, 0.05), w: 32, fs: 7, pad: 4 })
  }, { top: 8, right: 1, left: 0, bottom: 0 }, {
    xMajor: steps(39, 49, 1), xMinor: steps(39, 49, 0.5), yMajor: steps(3.3, 3.7, 0.05), yMinor: steps(3.3, 3.7, 0.01),
    major: 6, minor: 3, lw: 1.2
  }),
  plugins: [framePlugin, errorBarPlugin]
});

// ---------- justify the caption lines ----------
const CAP_W = 708;
document.querySelectorAll('#cap .cl').forEach(el => {
  if (el.dataset.last) return;
  const w = el.getBoundingClientRect().width;
  const n = (el.textContent.match(/[ \u00a0]/g) || []).length;
  if (n > 0) el.style.wordSpacing = ((CAP_W - w) / n) + 'px';
});
</script>
</body>
</html>
